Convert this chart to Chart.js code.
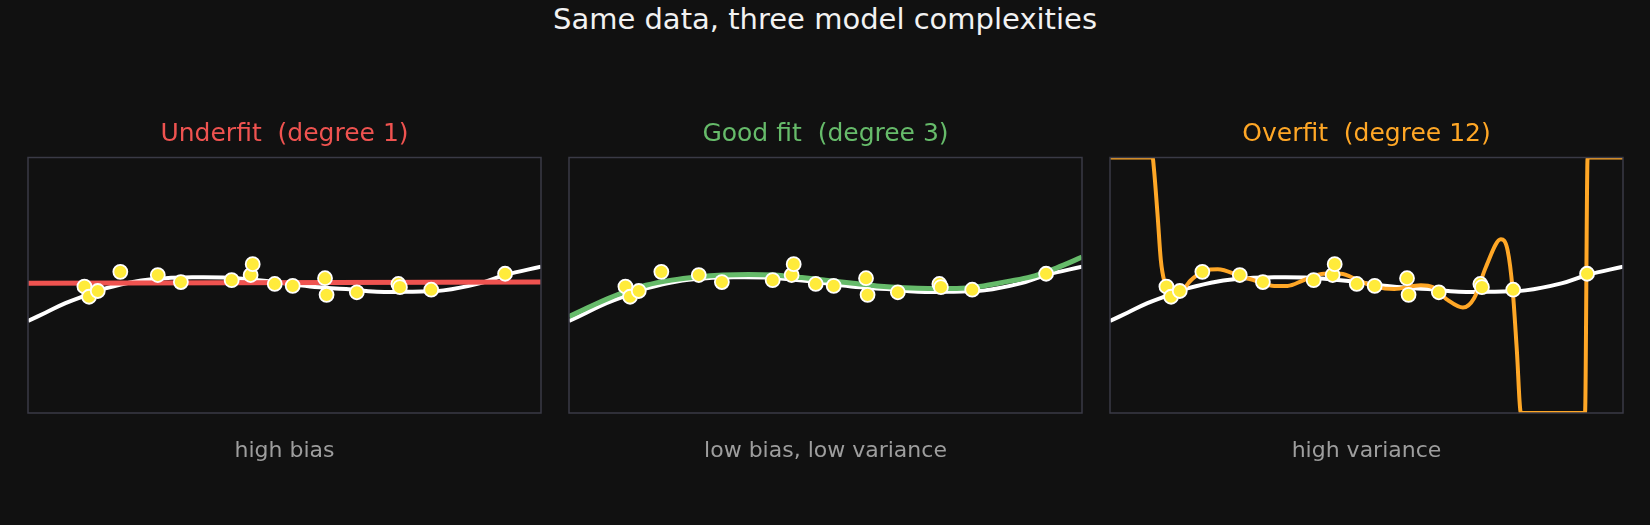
<!DOCTYPE html>
<html>
<head>
<meta charset="utf-8">
<script src="https://cdn.jsdelivr.net/npm/chart.js@4.4.1/dist/chart.umd.min.js"></script>
<style>
  html, body { margin: 0; padding: 0; background: #111111; }
  body { width: 1650px; height: 525px; position: relative; overflow: hidden; }
  #suptitle {
    position: absolute; left: 0; top: 4.5px; width: 1650px; text-align: center;
    font-family: "DejaVu Sans", sans-serif; font-size: 29px; line-height: 29px; color: #f2f2f2;
  }
  canvas { position: absolute; top: 0; }
</style>
</head>
<body>
<div id="suptitle">Same data, three model complexities</div>
<canvas id="c0" width="521" height="525" style="left:23.5px"></canvas>
<canvas id="c1" width="521" height="525" style="left:564.5px"></canvas>
<canvas id="c2" width="521" height="525" style="left:1105.5px"></canvas>
<script>
// noisy samples (same for all three panels)
const pointX = [0.110, 0.119, 0.136, 0.180, 0.253, 0.298, 0.397, 0.434, 0.438, 0.481,
                0.516, 0.579, 0.582, 0.641, 0.722, 0.725, 0.786, 0.930];
const pointY = [-0.02, -0.18, -0.09, 0.21, 0.16, 0.05, 0.08, 0.16, 0.33, 0.02,
                -0.01, 0.11, -0.15, -0.11, 0.02, -0.03, -0.07, 0.18];

// underlying true function (white)
const trueX = [0, 0.034, 0.073, 0.112, 0.151, 0.210, 0.268, 0.32, 0.38, 0.46, 0.55, 0.62, 0.68, 0.75, 0.81, 0.88, 0.93, 1.0];
const trueY = [-0.56, -0.43, -0.28, -0.16, -0.05, 0.06, 0.11, 0.125, 0.12, 0.07, -0.02, -0.06, -0.10, -0.10, -0.08, 0.03, 0.16, 0.29];

// degree 1 fit
const deg1X = [0, 1];
const deg1Y = [0.03, 0.05];

// degree 3 fit
const deg3X = [0, 0.05, 0.10, 0.15, 0.20, 0.25, 0.30, 0.35, 0.40, 0.454, 0.500,
               0.554, 0.600, 0.655, 0.700, 0.756, 0.800, 0.856, 0.900, 0.950, 1.0];
const deg3Y = [-0.49, -0.30, -0.13, 0.00, 0.08, 0.13, 0.16, 0.17, 0.16, 0.12, 0.08,
               0.03, -0.01, -0.04, -0.05, -0.05, -0.02, 0.06, 0.13, 0.27, 0.44];

// degree 12 fit (clipped to the y limits)
const deg12X = [0, 0.083, 0.086, 0.093, 0.099, 0.106, 0.112, 0.138, 0.158, 0.184, 0.210, 0.255,
                0.288, 0.320, 0.346, 0.378, 0.417, 0.450, 0.483, 0.520, 0.554, 0.606, 0.629,
                0.658, 0.688, 0.710, 0.733, 0.762, 0.775, 0.785, 0.793, 0.801, 0.926, 0.931, 1.0];
const deg12Y = [2, 2, 1.79, 1.07, 0.40, 0.06, -0.02, -0.08, 0.08, 0.23, 0.25, 0.14,
                0.06, -0.01, -0.01, 0.08, 0.18, 0.18, 0.08, -0.03, -0.06, 0.00, -0.03,
                -0.23, -0.35, -0.20, 0.29, 0.72, 0.55, -0.08, -1.01, -2, -2, 2, 2];

const panelTitles = ['Underfit  (degree 1)', 'Good fit  (degree 3)', 'Overfit  (degree 12)'];
const panelNotes = ['high bias', 'low bias, low variance', 'high variance'];
const panelColors = ['#ef5350', '#66bb6a', '#ffa726'];
const fitX = [deg1X, deg3X, deg12X];
const fitY = [deg1Y, deg3Y, deg12Y];

const Y_MIN = -2, Y_MAX = 2;

const toXY = (xs, ys) => xs.map((x, i) => ({ x: x, y: ys[i] }));

// frame around the plot area, drawn over the curves like axis spines
const framePlugin = {
  id: 'frame',
  afterDatasetsDraw(chart) {
    const a = chart.chartArea, ctx = chart.ctx;
    ctx.save();
    ctx.strokeStyle = '#3a3a46';
    ctx.lineWidth = 1.5;
    ctx.strokeRect(a.left, a.top, a.right - a.left, a.bottom - a.top);
    ctx.restore();
  }
};

for (let p = 0; p < 3; p++) {
  new Chart(document.getElementById('c' + p), {
    type: 'line',
    data: {
      datasets: [
        {
          label: 'data',
          data: toXY(pointX, pointY),
          showLine: false,
          pointRadius: 7,
          pointBackgroundColor: '#ffeb3b',
          pointBorderColor: '#ffffff',
          pointBorderWidth: 1.8,
          order: 0
        },
        {
          label: 'fit',
          data: toXY(fitX[p], fitY[p]),
          borderColor: panelColors[p],
          borderWidth: p === 2 ? 4 : 5,
          pointRadius: 0,
          cubicInterpolationMode: 'monotone',
          clip: 0,
          order: 1
        },
        {
          label: 'true',
          data: toXY(trueX, trueY),
          borderColor: '#ffffff',
          borderWidth: 4,
          pointRadius: 0,
          tension: 0.4,
          clip: 0,
          order: 2
        }
      ]
    },
    options: {
      responsive: false,
      animation: false,
      devicePixelRatio: 1,
      layout: { autoPadding: false, padding: { left: 4, right: 4, top: 0, bottom: 0 } },
      scales: {
        x: { type: 'linear', min: 0, max: 1, display: false },
        y: { type: 'linear', min: Y_MIN, max: Y_MAX, display: false }
      },
      plugins: {
        legend: { display: false },
        tooltip: { enabled: false },
        title: {
          display: true,
          text: panelTitles[p],
          color: panelColors[p],
          font: { family: 'DejaVu Sans', size: 25, weight: 'normal' },
          padding: { top: 119.3, bottom: 8.2 }
        },
        subtitle: {
          display: true,
          position: 'bottom',
          text: panelNotes[p],
          color: '#9e9e9e',
          font: { family: 'DejaVu Sans', size: 22, weight: 'normal' },
          padding: { top: 24.7, bottom: 60.9 }
        }
      }
    },
    plugins: [framePlugin]
  });
}
</script>
</body>
</html>
